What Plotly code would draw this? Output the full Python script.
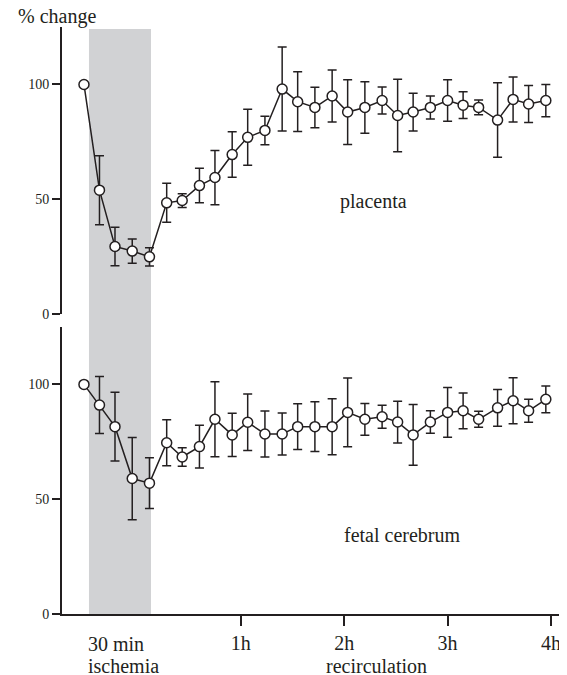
import plotly.graph_objects as go

# Sampling times (minutes relative to start of recirculation)
time_min = [-31, -22, -13, -3, 7, 17, 26, 36, 45, 55, 64, 74, 84, 93, 103,
            113, 122, 132, 142, 151, 160, 170, 180, 189, 198, 209, 218, 227, 237]

# Placenta (% change) and error (±)
placenta = [100, 54, 29.5, 27.5, 25, 48.5, 49.5, 56, 59.5, 69.5, 77, 80, 98, 92.5, 90,
            95, 88, 90, 93, 86.5, 88, 90, 93, 91, 90, 84.5, 93.5, 91.5, 93]
placenta_err = [0, 15, 8.4, 5.3, 4, 8.5, 3, 7.5, 11.8, 9.9, 12.2, 6.2, 18.3, 13, 8.8,
                11.3, 14.1, 11.2, 5.9, 15.8, 8.2, 5, 9, 5.8, 3.2, 16.2, 9.8, 8, 7]

# Fetal cerebrum (% change) and error (±)
cerebrum = [100, 91, 81.6, 59, 57, 74.6, 68.4, 72.9, 84.8, 78, 83.5, 78.4, 78.4, 81.6, 81.6,
            81.6, 87.8, 84.8, 85.9, 83.6, 78, 83.6, 87.8, 88.5, 84.8, 89.8, 92.9, 88.5, 93.5]
cerebrum_err = [0, 12.4, 15, 17.9, 11, 10, 4, 9.3, 16.3, 9.4, 12.3, 10, 9.1, 10, 10.8,
                12.2, 15, 6.9, 5, 9.1, 13.2, 4.9, 10.8, 7.8, 3.5, 8, 10, 5, 5.8]

# Ischemia period shading (minutes)
ischemia_span = [-28.1, 7.9]

# Axis ticks
x_tickvals = [60, 120, 180, 240]
x_ticktext = ["1h", "2h", "3h", "4h"]
y_tickvals = [0, 50, 100]

FONT = "Liberation Serif, Times New Roman, serif"
INK = "#231f20"

# The page body has an 8px default margin; size the figure so it fills the window.
PAGE_PAD = 8
W, H = 567 - PAGE_PAD, 675 - PAGE_PAD

# Plot area in window pixels
PL, PR, PT, PB = 62, 561, 27, 614
plot_w, plot_h = PR - PL, PB - PT


def py(pixel_y):
    return (PB - pixel_y) / plot_h


def px(pixel_x):
    return (pixel_x - PL) / plot_w


def series(y, err, yaxis):
    return go.Scatter(
        x=time_min, y=y, yaxis=yaxis, mode="lines+markers",
        line=dict(color=INK, width=1.5),
        marker=dict(symbol="circle", size=10, color="white",
                    line=dict(color=INK, width=1.5)),
        error_y=dict(type="data", array=err, visible=True, color=INK,
                     thickness=1.5, width=4.5),
        showlegend=False, hoverinfo="x+y",
    )


fig = go.Figure()
fig.add_trace(series(placenta, placenta_err, "y2"))
fig.add_trace(series(cerebrum, cerebrum_err, "y"))

yaxis_common = dict(
    range=[0, 125], showline=True, linecolor=INK, linewidth=2,
    ticks="outside", ticklen=8, tickwidth=1.5, tickcolor=INK,
    tickvals=y_tickvals, tickfont=dict(family=FONT, size=14, color=INK),
    showgrid=False, zeroline=False, fixedrange=True,
)


def label(text, x, y, xanchor="left", xref="paper", yref="paper"):
    return dict(text=text, xref=xref, yref=yref, x=x, y=y,
                xanchor=xanchor, yanchor="middle", showarrow=False,
                font=dict(family=FONT, size=20, color=INK))


fig.update_layout(
    width=W, height=H,
    margin=dict(l=PL - PAGE_PAD, r=W - (PR - PAGE_PAD), t=PT - PAGE_PAD, b=H - (PB - PAGE_PAD)),
    paper_bgcolor="white", plot_bgcolor="white",
    font=dict(family=FONT, color=INK),
    xaxis=dict(
        domain=[0, 1], range=[-43.75, 245.8], anchor="y",
        showline=True, linecolor=INK, linewidth=2,
        ticks="outside", ticklen=10, tickwidth=1.5, tickcolor=INK,
        tickvals=x_tickvals, ticktext=x_ticktext,
        tickfont=dict(family=FONT, size=20, color=INK),
        ticklabelstandoff=0,
        showgrid=False, zeroline=False,
    ),
    yaxis=dict(domain=[0, py(327)], anchor="x", **yaxis_common),
    yaxis2=dict(domain=[py(314.3), 1], anchor="x", **yaxis_common),
    shapes=[dict(
        type="rect", xref="x", yref="paper",
        x0=ischemia_span[0], x1=ischemia_span[1], y0=0, y1=py(29),
        fillcolor="#d1d2d4", line=dict(width=0), layer="below",
    )],
    annotations=[
        label("% change", px(16), py(17)),
        label("placenta", 137, 49, "center", "x", "y2"),
        label("fetal cerebrum", 153.4, 34.5, "center", "x", "y"),
        label("30 min", px(86), py(644)),
        label("ischemia", px(86), py(666)),
        label("recirculation", px(376), py(666), "center"),
    ],
)

fig.write_html("out.html")
